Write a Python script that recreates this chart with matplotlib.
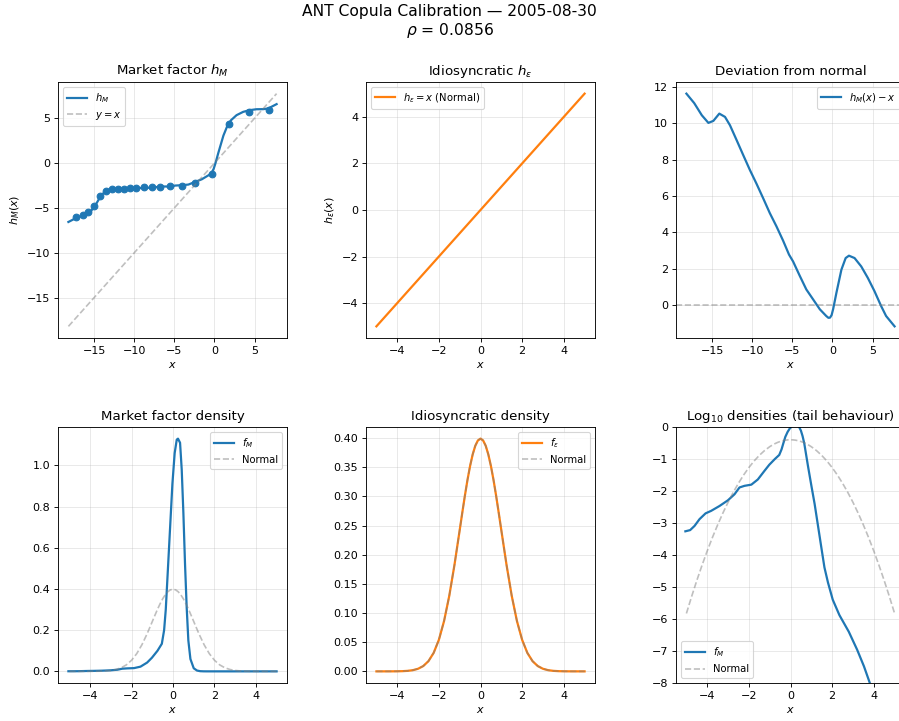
import numpy as np
import matplotlib.pyplot as plt

# calibrated knots of the market factor transform h_M
knot_x = [-17.25, -16.41, -15.7, -14.95, -14.25, -13.5, -12.75, -12.04, -11.29, -10.58,
          -9.75, -8.79, -7.79, -6.83, -5.58, -4.08, -2.41, -0.33, 1.88, 4.3, 6.8]
knot_h = [-5.97, -5.79, -5.42, -4.79, -3.65, -3.1, -2.91, -2.83, -2.83, -2.8,
          -2.72, -2.69, -2.69, -2.65, -2.58, -2.54, -2.17, -1.18, 4.42, 5.68, 5.97]

# deviation h_M(x) - x along the fitted curve
dev_x = [-18.2, -17.23, -16.28, -15.46, -14.84, -14.1, -13.39, -12.77, -11.94, -11.12,
         -10.29, -9.45, -8.63, -7.8, -6.97, -6.15, -5.41, -4.9, -4.08, -3.25,
         -2.4, -1.57, -0.77, -0.5, -0.3, -0.1, 0.1, 0.5, 1.12, 1.65, 2.06, 2.76,
         3.59, 4.41, 5.24, 6.07, 6.69, 7.75]
dev_y = [11.64, 11.12, 10.45, 10.03, 10.14, 10.54, 10.36, 9.9, 9.08, 8.26,
         7.44, 6.67, 5.88, 5.06, 4.33, 3.55, 2.78, 2.4, 1.62, 0.86,
         0.31, -0.23, -0.6, -0.7, -0.69, -0.55, -0.2, 0.68, 1.95, 2.59, 2.72, 2.59,
         2.13, 1.5, 0.77, -0.05, -0.6, -1.17]

# idiosyncratic transform (identity)
eps_x = [-5, 5]
eps_h = [-5, 5]

# market factor density f_M
fm_x = [-5.05, -4.82, -4.61, -4.37, -4.08, -3.81, -3.41, -3.01, -2.69, -2.45,
        -2.21, -1.88, -1.57, -1.25, -1.02, -0.75, -0.54, -0.43, -0.35, -0.25,
        -0.14, -0.03, 0.08, 0.18, 0.24, 0.34, 0.42, 0.5, 0.58, 0.66,
        0.74, 0.84, 1.0, 1.16, 1.31, 1.48, 1.63, 1.8, 2.03, 2.35,
        2.8, 3.2, 3.53, 3.81, 4.2, 5.0]
fm_y = [5.5e-4, 6.0e-4, 8.1e-4, 1.32e-3, 2.0e-3, 2.4e-3, 3.4e-3, 5.1e-3, 7.9e-3, 0.0129,
        0.0145, 0.0158, 0.0229, 0.0427, 0.066, 0.1, 0.134, 0.2, 0.3, 0.49,
        0.7, 0.91, 1.06, 1.125, 1.13, 1.11, 0.98, 0.77, 0.52, 0.31,
        0.15, 0.06, 0.015, 3.9e-3, 9.1e-4, 1.74e-4, 4.1e-5, 1.38e-5, 4.0e-6, 1.32e-6,
        4.0e-7, 1.1e-7, 3.3e-8, 1.0e-8, 2.0e-9, 3.2e-11]

# standard normal reference density
norm_x = [-5.0, -4.75, -4.5, -4.25, -4.0, -3.75, -3.5, -3.25, -3.0, -2.75,
          -2.5, -2.25, -2.0, -1.75, -1.5, -1.25, -1.0, -0.875, -0.75, -0.625,
          -0.5, -0.375, -0.25, -0.125, 0.0, 0.125, 0.25, 0.375, 0.5, 0.625,
          0.75, 0.875, 1.0, 1.25, 1.5, 1.75, 2.0, 2.25,
          2.5, 2.75, 3.0, 3.25, 3.5, 3.75, 4.0, 4.25, 4.5, 4.75, 5.0]
norm_y = [1.49e-6, 5.03e-6, 1.60e-5, 4.77e-5, 1.34e-4, 3.53e-4, 8.73e-4, 2.03e-3, 4.43e-3, 9.09e-3,
          0.0175, 0.0317, 0.0540, 0.0863, 0.1295, 0.1826, 0.2420, 0.2719, 0.3011, 0.3282,
          0.3521, 0.3719, 0.3867, 0.3958, 0.3989, 0.3958, 0.3867, 0.3719, 0.3521, 0.3282,
          0.3011, 0.2719, 0.2420, 0.1826, 0.1295, 0.0863, 0.0540, 0.0317,
          0.0175, 9.09e-3, 4.43e-3, 2.03e-3, 8.73e-4, 3.53e-4, 1.34e-4, 4.77e-5, 1.60e-5, 5.03e-6, 1.49e-6]

DPI = 80
fig = plt.figure(figsize=(899 / DPI, 721 / DPI), dpi=DPI)
fig.suptitle("ANT Copula Calibration \u2014 2005-08-30\n$\\rho$ = 0.0856", fontsize=14, y=0.995)

W, H = 899.0, 721.0
lefts = [58, 366, 676]
tops = [82, 427]
aw, ah = 229, 256
axs = [[fig.add_axes([l / W, 1 - (t + ah) / H, aw / W, ah / H]) for l in lefts] for t in tops]

dx = np.array(dev_x)
dy = np.array(dev_y)
hm = dy + dx
gray = dict(color='gray', ls='--', alpha=0.5, lw=1.5)

# market factor transform
ax = axs[0][0]
ax.plot(dx, hm, color='C0', lw=2, label='$h_M$')
ax.plot(knot_x, knot_h, 'o', color='C0', ms=6)
ax.plot([dx[0], dx[-1]], [dx[0], dx[-1]], label='$y = x$', **gray)
ax.set_title('Market factor $h_M$')
ax.set_xlabel('$x$')
ax.set_ylabel('$h_M(x)$')
ax.legend(loc='upper left', fontsize=9)

# idiosyncratic transform
ax = axs[0][1]
ax.plot(eps_x, eps_h, color='C1', lw=2, label='$h_\\epsilon = x$ (Normal)')
ax.set_title('Idiosyncratic $h_\\epsilon$')
ax.set_xlabel('$x$')
ax.set_ylabel('$h_\\epsilon(x)$')
ax.legend(loc='upper left', fontsize=9)

# deviation
ax = axs[0][2]
ax.plot(dx, dy, color='C0', lw=2, label='$h_M(x) - x$')
ax.axhline(0, **gray)
ax.set_title('Deviation from normal')
ax.set_xlabel('$x$')
ax.legend(loc='upper right', fontsize=9)

# market factor density
ax = axs[1][0]
ax.plot(fm_x, fm_y, color='C0', lw=2, label='$f_M$')
ax.plot(norm_x, norm_y, label='Normal', **gray)
ax.set_title('Market factor density')
ax.set_xlabel('$x$')
ax.legend(loc='upper right', fontsize=9)

# idiosyncratic density
ax = axs[1][1]
ax.plot(norm_x, norm_y, color='C1', lw=2, label='$f_\\epsilon$')
ax.plot(norm_x, norm_y, label='Normal', **gray)
ax.set_title('Idiosyncratic density')
ax.set_xlabel('$x$')
ax.legend(loc='upper right', fontsize=9)

# log densities
ax = axs[1][2]
ax.plot(fm_x, np.log10(fm_y), color='C0', lw=2, label='$f_M$')
ax.plot(norm_x, np.log10(norm_y), label='Normal', **gray)
ax.set_ylim(-8, 0)
ax.set_xlim(-5.5, 5.5)
ax.set_title('Log$_{10}$ densities (tail behaviour)')
ax.set_xlabel('$x$')
ax.legend(loc='lower left', fontsize=9)

for row in axs:
    for ax in row:
        ax.grid(True, alpha=0.3)

fig.savefig('out.png', dpi=DPI)
